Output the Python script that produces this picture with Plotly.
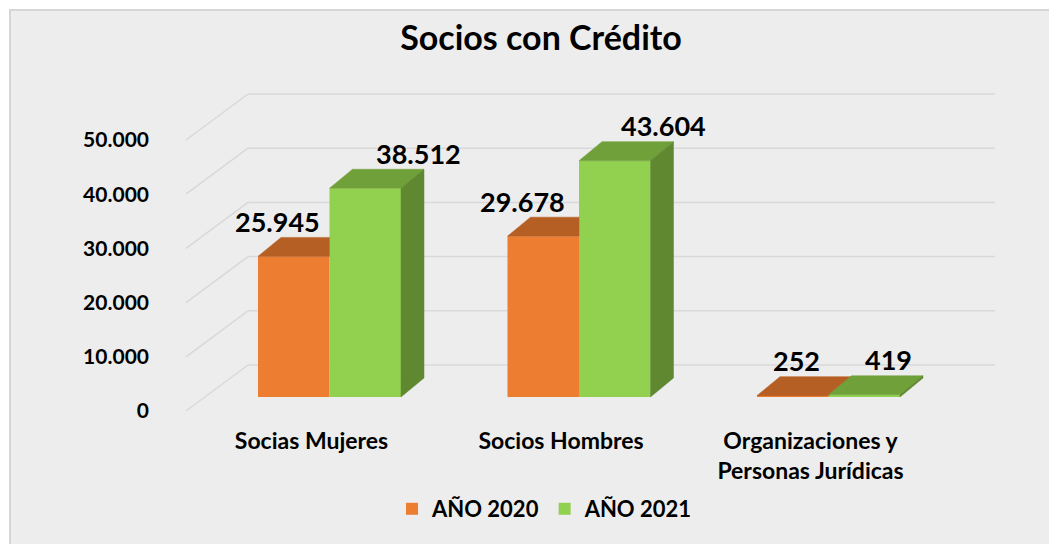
import plotly.graph_objects as go

# ---------------- data ----------------
categories = ["Socias Mujeres", "Socios Hombres", "Organizaciones y<br>Personas Jurídicas"]
series_names = ["AÑO 2020", "AÑO 2021"]
values_2020 = [25945, 29678, 252]
values_2021 = [38512, 43604, 419]
y_tick_values = [0, 10000, 20000, 30000, 40000, 50000]
y_tick_labels = ["0", "10.000", "20.000", "30.000", "40.000", "50.000"]
title_text = "Socios con Crédito"

# ---------------- layout constants (pixels, in page coordinates) ----------------
W, H = 1057, 544
OX, OY = 8, 8              # page offset of the figure (body margin)
FW, FH = W - OX, H - OY    # figure size
GROUP_PX = 249.5           # px between category centers
CENTER0_PX = 329.5         # x of first category center
BASE_PX = 397              # y of bar base (bar plane)
K = 54.2 / 10000           # px per value unit
BAR_W = 0.2866             # bar width in category units
DX_PX, DY_PX = 23, 19      # 3D depth of bars
FRONT_DY, BACK_DY = 14, 32 # wall planes relative to bar plane
FRONT_LEFT, BACK_LEFT, BACK_RIGHT = 186, 248, 995
LABEL_SHIFT_FRONT = 18
LABEL_DX = {0: [-16, -21, 4], 1: [53, 49, 24]}
LABEL_DY = 35

FONT = "Lato"
COL_FRONT = ["#ED7D31", "#92D050"]
COL_TOP = ["#B65F24", "#70A03A"]
COL_SIDE = ["#A0521E", "#5F8830"]
GRID = "#D9D9D9"
BG = "#EDEDED"


def ux(px):  # absolute px -> x units
    return (px - CENTER0_PX) / GROUP_PX


def du(dpx):
    return dpx / GROUP_PX


def dv(dpx):
    return dpx / K


fig = go.Figure()

# bars (front faces)
series = [values_2020, values_2021]
offsets = [-BAR_W / 2, BAR_W / 2]
for s, vals in enumerate(series):
    fig.add_trace(go.Bar(
        x=[i + offsets[s] for i in range(len(categories))], y=vals, width=BAR_W,
        name=series_names[s], marker=dict(color=COL_FRONT[s], line=dict(width=0)),
        hoverinfo="skip",
    ))

ddx, ddy = du(DX_PX), dv(DY_PX)


def poly(xs, ys, color):
    fig.add_trace(go.Scatter(
        x=xs + [xs[0]], y=ys + [ys[0]], mode="lines", fill="toself",
        fillcolor=color, line=dict(width=0.5, color=color), showlegend=False,
        hoverinfo="skip",
    ))


# gridlines on the 3D walls (behind the bars)
for v in y_tick_values:
    pts = [(ux(FRONT_LEFT), v - dv(FRONT_DY)),
           (ux(BACK_LEFT), v + dv(BACK_DY)),
           (ux(BACK_RIGHT), v + dv(BACK_DY))]
    for (xa, ya), (xb, yb) in zip(pts[:-1], pts[1:]):
        fig.add_shape(type="line", xref="x", yref="y", x0=xa, y0=ya, x1=xb, y1=yb,
                      line=dict(color=GRID, width=1.5), layer="below")

# 3D faces (tops and sides)
for i in range(len(categories)):
    ho, hg = values_2020[i], values_2021[i]
    xo0, xo1 = i - BAR_W, i
    xg0, xg1 = i, i + BAR_W
    if hg >= ho + ddy:
        poly([xo0, xo1, xo1, xo0 + ddx], [ho, ho, ho + ddy, ho + ddy], COL_TOP[0])
    else:
        poly([xo0, xo1, xo1 + ddx, xo0 + ddx], [ho, ho, ho + ddy, ho + ddy], COL_TOP[0])
    if ho > hg:
        poly([xo1, xo1, xo1 + ddx, xo1 + ddx], [hg, ho, ho + ddy, hg + ddy], COL_SIDE[0])
    poly([xg0, xg1, xg1 + ddx, xg0 + ddx], [hg, hg, hg + ddy, hg + ddy], COL_TOP[1])
    poly([xg1, xg1, xg1 + ddx, xg1 + ddx], [0, hg, hg + ddy, ddy], COL_SIDE[1])

# invisible trace so the front-plane axes (tick labels) are drawn
fig.add_trace(go.Scatter(x=[0], y=[0], xaxis="x2", yaxis="y2", mode="markers",
                         marker=dict(opacity=0), showlegend=False, hoverinfo="skip"))

# data labels
for s, vals in enumerate(series):
    for i, v in enumerate(vals):
        fig.add_annotation(
            x=i + offsets[s], y=v, xref="x", yref="y",
            text=f"{v:,}".replace(",", "."), showarrow=False,
            xshift=LABEL_DX[s][i], yshift=LABEL_DY, yanchor="middle",
            font=dict(family=FONT, size=27, color="#000000", weight="bold"),
        )

# background frame
fig.add_shape(type="rect", xref="paper", yref="paper",
              x0=(10 - OX) / FW, x1=1.05, y0=-0.05, y1=1 - (10 - OY) / FH,
              fillcolor=BG, line=dict(color="#D6D6D6", width=2), layer="below")

x_range = [ux(OX), ux(OX + FW)]
y_range = [-(OY + FH - BASE_PX) / K, (BASE_PX - OY) / K]
front_base = BASE_PX + FRONT_DY
y2_range = [-(OY + FH - front_base) / K, (front_base - OY) / K]
cx_front = CENTER0_PX - LABEL_SHIFT_FRONT
x2_range = [(OX - cx_front) / GROUP_PX, (OX + FW - cx_front) / GROUP_PX]

fig.update_layout(
    width=FW, height=FH, margin=dict(l=0, r=0, t=0, b=0),
    paper_bgcolor="white", plot_bgcolor="rgba(0,0,0,0)",
    barmode="overlay", showlegend=True,
    title=dict(text=title_text, x=(541 - OX) / FW, xanchor="center",
               y=1 - (38 - OY) / FH, yanchor="middle",
               font=dict(family=FONT, size=34, color="#000000", weight="bold")),
    xaxis=dict(range=x_range, visible=False, fixedrange=True),
    yaxis=dict(range=y_range, visible=False, fixedrange=True),
    xaxis2=dict(range=x2_range, overlaying="x", anchor="free", side="bottom",
                position=1 - (425 - OY) / FH, tickmode="array",
                tickvals=list(range(len(categories))), ticktext=categories,
                showgrid=False, zeroline=False, showline=False, ticks="",
                fixedrange=True,
                tickfont=dict(family=FONT, size=23, color="#000000", weight="bold")),
    yaxis2=dict(range=y2_range, overlaying="y", anchor="free", side="left",
                position=(149 - OX) / FW, tickmode="array",
                tickvals=y_tick_values, ticktext=y_tick_labels,
                showgrid=False, zeroline=False, showline=False, ticks="",
                fixedrange=True,
                tickfont=dict(family=FONT, size=21, color="#000000", weight="bold")),
    legend=dict(orientation="h", x=(545 - OX) / FW, xanchor="center",
                y=1 - (509 - OY) / FH, yanchor="middle", bgcolor="rgba(0,0,0,0)",
                font=dict(family=FONT, size=22, color="#000000", weight="bold")),
)

fig.write_html("out.html")
